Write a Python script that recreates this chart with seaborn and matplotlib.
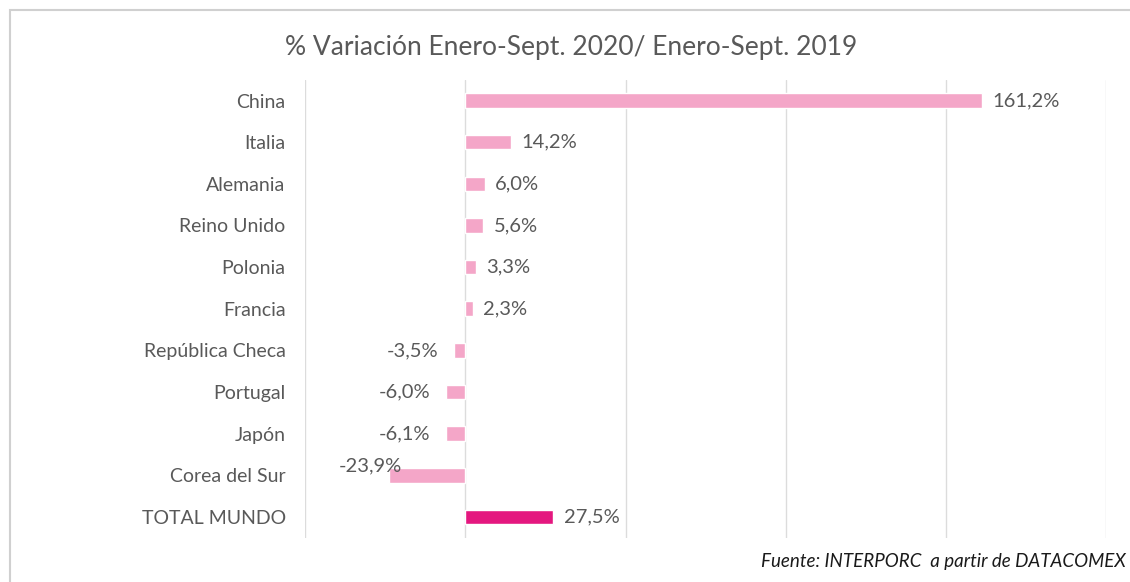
import matplotlib
matplotlib.use("Agg")
import matplotlib.pyplot as plt
import seaborn as sns
import pandas as pd
from matplotlib.patches import Rectangle

paises = ["China", "Italia", "Alemania", "Reino Unido", "Polonia", "Francia",
          "República Checa", "Portugal", "Japón", "Corea del Sur", "TOTAL MUNDO"]
variacion = [161.2, 14.2, 6.0, 5.6, 3.3, 2.3, -3.5, -6.0, -6.1, -23.9, 27.5]
grupo = ["país"] * 10 + ["total"]

colores = {"país": "#F4A6C8", "total": "#E4177F"}
gris = "#595959"

df = pd.DataFrame({"pais": paises, "variacion": variacion, "grupo": grupo})

sns.set_theme(style="white")
plt.rcParams["font.family"] = ["Lato", "DejaVu Sans"]

fig = plt.figure(figsize=(11.30, 5.82), dpi=100)
ax = fig.add_axes([0.270, 0.076, 0.709, 0.787])

sns.barplot(data=df, x="variacion", y="pais", hue="grupo", palette=colores,
            order=paises, orient="h", width=0.35, dodge=False, legend=False,
            saturation=1, ax=ax)

ax.set_xlim(-50, 200)
ax.set_xticks([-50, 0, 50, 100, 150, 200])
ax.set_xticklabels([])
ax.grid(axis="x", color="#DCDCDC", linewidth=1.0)
ax.set_axisbelow(True)
for s in ax.spines.values():
    s.set_visible(False)
ax.tick_params(axis="y", length=0, pad=14, labelsize=14, labelcolor=gris)
ax.tick_params(axis="x", length=0)
ax.set_xlabel("")
ax.set_ylabel("")

for i, v in enumerate(variacion):
    txt = f"{v:.1f}%".replace(".", ",")
    if v >= 0:
        ax.text(v + 3.2, i, txt, ha="left", va="center", fontsize=14.5, color=gris)
    elif v < -20:
        ax.text(v + 4.0, i - 0.22, txt, ha="right", va="center", fontsize=14.5, color=gris)
    else:
        ax.text(v - 4.8, i, txt, ha="right", va="center", fontsize=14.5, color=gris)

fig.text(0.505, 0.919, "% Variación Enero-Sept. 2020/ Enero-Sept. 2019",
         ha="center", va="center", fontsize=19, color=gris)
fig.text(0.996, 0.036, "Fuente: INTERPORC  a partir de DATACOMEX",
         ha="right", va="center", fontsize=13.5, style="italic", color="#1a1a1a")

fig.patches.append(Rectangle((0.009, -0.02), 1.1, 1.0026, transform=fig.transFigure,
                             fill=False, edgecolor="#D0D0D0", linewidth=1.5))

fig.savefig("out.png", dpi=100, facecolor="white")
